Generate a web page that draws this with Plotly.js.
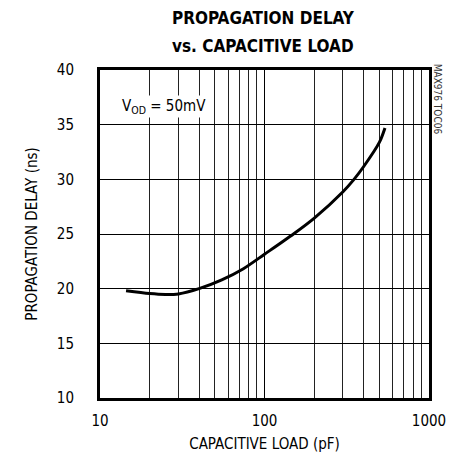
<!DOCTYPE html>
<html><head><meta charset="utf-8">
<script src="https://cdn.plot.ly/plotly-3.0.1.min.js"></script>
<style>html,body{margin:0;padding:0;background:#fff}#c{width:451px;height:459px}</style>
</head><body><div id="c"></div>
<script>
const loadPF = [14.4, 20, 25, 30, 40, 55, 74, 100, 150, 200, 300, 350, 400, 500, 540];
const delayNS = [19.8, 19.55, 19.47, 19.52, 20.0, 20.8, 21.8, 23.15, 25.0, 26.43, 28.87, 30.0, 31.15, 33.4, 34.7];
const xTickVals = [10, 100, 1000];
const xTickText = ['10', '100', '1000'];
const yTickVals = [10, 15, 20, 25, 30, 35, 40];

const F = '"Liberation Sans Narrow", "DejaVu Sans Condensed", Arial, sans-serif';
const data = [{
  x: loadPF, y: delayNS, type: 'scatter', mode: 'lines',
  line: {color: '#000', width: 3, shape: 'spline', smoothing: 0.8}, hoverinfo: 'none'
}];
const layout = {
  width: 451, height: 459,
  margin: {l: 100, r: 22, t: 70, b: 61},
  paper_bgcolor: '#fff', plot_bgcolor: '#fff',
  showlegend: false,
  title: {text: '<b>PROPAGATION DELAY</b>', x: 0.583, xanchor: 'center', yref: 'container', y: 1 - 18/459, yanchor: 'middle',
    font: {family: F, size: 17, color: '#000'}},
  xaxis: {
    type: 'log', range: [1, 3], tickvals: xTickVals, ticktext: xTickText,
    showline: true, mirror: true, linewidth: 3, linecolor: '#000',
    showgrid: true, gridcolor: '#000', gridwidth: 1,
    minor: {dtick: 'D1', showgrid: true, gridcolor: '#222', gridwidth: 1, ticks: ''},
    ticks: '', zeroline: false, ticklabelstandoff: 7,
    tickfont: {family: F, size: 15, color: '#000'},
    title: {text: 'CAPACITIVE LOAD (pF)', font: {family: F, size: 15, color: '#000'}, standoff: 10}
  },
  yaxis: {
    range: [10, 40], tickvals: yTickVals,
    showline: true, mirror: true, linewidth: 3, linecolor: '#000',
    showgrid: true, gridcolor: '#000', gridwidth: 1,
    ticks: '', zeroline: false, ticklabelstandoff: 20,
    tickfont: {family: F, size: 15, color: '#000'},
    title: {text: 'PROPAGATION DELAY (ns)', font: {family: F, size: 15, color: '#000'}, standoff: 16}
  },
  annotations: [
    {xref: 'paper', yref: 'paper', x: 0.495, y: 1 + 24/328, xanchor: 'center', yanchor: 'middle', showarrow: false,
     text: '<b>vs. CAPACITIVE LOAD</b>', font: {family: F, size: 17, color: '#000'}},
    {xref: 'paper', yref: 'paper', x: 0.06, y: 0.89, xanchor: 'left', yanchor: 'middle', showarrow: false,
     text: 'V<sub>OD</sub> = 50mV', font: {family: F, size: 15, color: '#000'}, bgcolor: '#fff'},
    {xref: 'paper', yref: 'paper', x: 1.024, y: 1.024, xanchor: 'center', yanchor: 'top', showarrow: false,
     textangle: 90, text: 'MAX976 TOC06', font: {family: F, size: 10, color: '#333'}}
  ]
};
Plotly.newPlot('c', data, layout, {staticPlot: true});
</script></body></html>
